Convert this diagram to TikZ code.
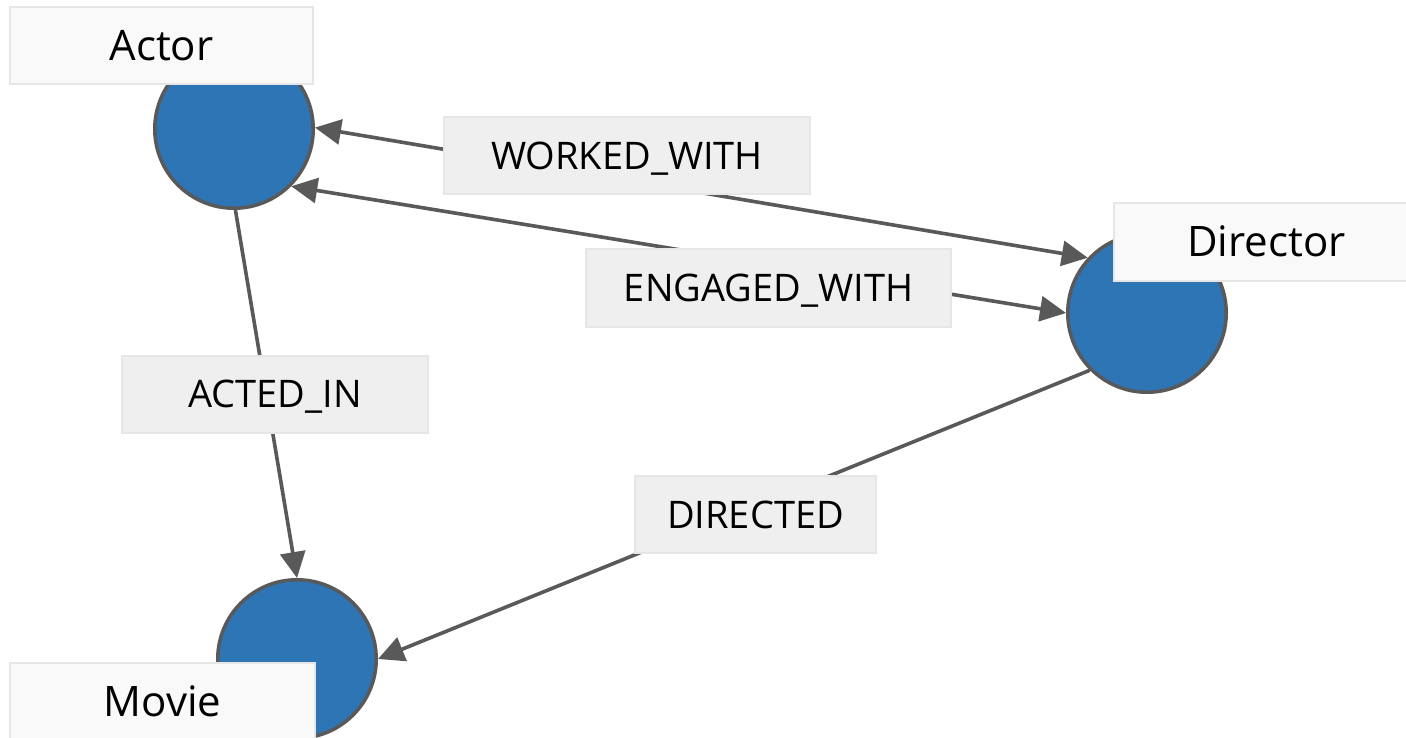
\documentclass[tikz,border=0pt]{standalone}
\usepackage{fontspec}
\setmainfont{Open Sans}
\usetikzlibrary{arrows.meta}
\definecolor{entityfill}{HTML}{2E75B6}
\definecolor{linegray}{HTML}{595959}
\definecolor{tagfill}{HTML}{F9F9F9}
\definecolor{tagline}{HTML}{E6E6E6}
\definecolor{relfill}{HTML}{EFEFEF}
\begin{document}
\begin{tikzpicture}[x=1pt,y=-1pt,
  entity/.style={circle,fill=entityfill,draw=linegray,line width=3.5pt,
    inner sep=0pt,minimum size=158.5pt},
  rel/.style={draw=linegray,line width=3.6pt,
    arrows={-Triangle[length=26pt,width=25pt]}},
  birel/.style={draw=linegray,line width=3.6pt,
    arrows={Triangle[length=26pt,width=25pt]-Triangle[length=26pt,width=25pt]}},
  tag/.style={rectangle,fill=tagfill,draw=tagline,line width=2pt,
    inner sep=0pt,minimum height=77pt,text height=30pt,text depth=0pt,
    font=\fontsize{42}{50}\selectfont},
  reltag/.style={rectangle,fill=relfill,draw=tagline,line width=2pt,
    inner sep=0pt,minimum height=77pt,text height=27pt,text depth=0pt,
    font=\fontsize{38}{46}\selectfont}]
\useasboundingbox (0,0) rectangle (1406,738);
\clip (0,0) rectangle (1406,738);
\fill[white] (0,0) rectangle (1406,738);

% entities
\node[entity] (actor) at (234,129) {};
\node[entity] (director) at (1147,313) {};
\node[entity] (movie) at (297,659) {};

% relationships
\draw[birel] (actor.1) -- (director.137);
\draw[birel] (actor.-45) -- (director.180);
\draw[rel] (actor.-89) -- (movie.90);
\draw[rel] (director.225) -- (movie.0);

% relationship labels
\node[reltag,minimum width=366pt] (worked) at (627,156) {WORKED\_WITH};
\node[reltag,minimum width=365pt] (engaged) at (768.5,288) {ENGAGED\_WITH};
\node[reltag,minimum width=306pt] (acted) at (275,394) {ACTED\_IN};
\node[reltag,minimum width=241pt] (directed) at (755.5,514.5) {DIRECTED};

% entity captions
\node[tag,minimum width=303pt] (actortag) at (161.5,46) {Actor};
\node[tag,minimum width=305pt] (directortag) at (1266.5,242) {Director};
\node[tag,minimum width=305pt] (movietag) at (162.5,701.5) {Movie};
\end{tikzpicture}
\end{document}
